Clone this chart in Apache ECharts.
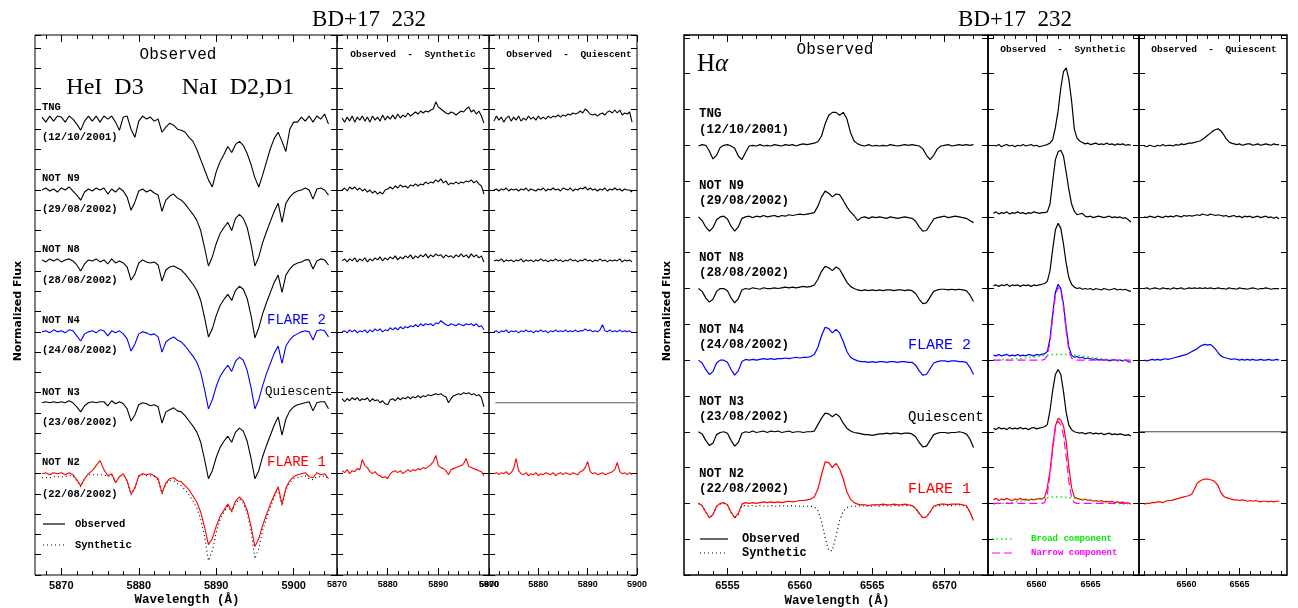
<!DOCTYPE html>
<html>
<head>
<meta charset="utf-8">
<title>BD+17 232</title>
<script src="https://cdn.jsdelivr.net/npm/echarts@6/dist/echarts.min.js"></script>
<style>
html,body{margin:0;padding:0;background:#fff;}
#main{width:1298px;height:608px;}
</style>
</head>
<body>
<div id="main"></div>
<script>
// ---------- Na I D2,D1 / He I D3 region (left figure) ----------
var naWave = [
  5867.5, 5868, 5868.5, 5869, 5869.5, 5870, 5870.5, 5871, 5871.5, 5872,
  5872.5, 5873, 5873.5, 5874, 5874.5, 5875, 5875.5, 5876, 5876.5, 5877,
  5877.5, 5878, 5878.5, 5879, 5879.5, 5880, 5880.5, 5881, 5881.5, 5882,
  5882.5, 5883, 5883.5, 5884, 5884.5, 5885, 5885.5, 5886, 5886.5, 5887,
  5887.5, 5888, 5888.5, 5889, 5889.5, 5890, 5890.5, 5891, 5891.5, 5892,
  5892.5, 5893, 5893.5, 5894, 5894.5, 5895, 5895.5, 5896, 5896.5, 5897,
  5897.5, 5898, 5898.5, 5899, 5899.5, 5900, 5900.5, 5901, 5901.5, 5902,
  5902.5, 5903, 5903.5, 5904, 5904.5
];
var naTNG = [
  1.02, 0.97, 1.03, 0.98, 1.03, 1.02, 0.97, 1.03, 1.00, 0.95,
  0.89, 0.98, 1.03, 0.98, 1.03, 0.97, 1.03, 1.00, 1.03, 0.97,
  0.89, 1.02, 1.03, 0.90, 0.82, 0.98, 1.03, 1.00, 1.02, 0.98,
  1.00, 0.87, 0.92, 0.96, 0.94, 0.90, 0.89, 0.87, 0.82, 0.78,
  0.70, 0.60, 0.50, 0.40, 0.33, 0.48, 0.58, 0.65, 0.73, 0.67,
  0.75, 0.78, 0.74, 0.66, 0.55, 0.42, 0.33, 0.45, 0.58, 0.71,
  0.81, 0.87, 0.78, 0.68, 0.90, 0.97, 0.97, 1.02, 0.98, 1.03,
  0.97, 1.03, 1.00, 1.05, 0.95
];
var naN9 = [
  1.00, 1.02, 0.99, 1.01, 0.98, 1.02, 1.00, 1.03, 0.99, 0.95,
  0.90, 0.98, 1.01, 0.99, 1.02, 1.00, 1.02, 0.96, 1.01, 0.98,
  1.02, 0.99, 0.93, 0.80, 0.88, 0.99, 1.01, 0.98, 1.00, 0.97,
  0.95, 0.79, 0.90, 0.94, 0.96, 0.92, 0.90, 0.86, 0.81, 0.76,
  0.70, 0.60, 0.43, 0.25, 0.34, 0.47, 0.57, 0.63, 0.68, 0.60,
  0.72, 0.76, 0.72, 0.63, 0.46, 0.25, 0.34, 0.48, 0.59, 0.69,
  0.79, 0.87, 0.68, 0.87, 0.93, 0.97, 0.99, 1.00, 1.02, 1.00,
  0.91, 1.01, 1.02, 1.00, 0.95
];
var naN8 = [
  1.01, 0.99, 1.02, 1.00, 1.02, 0.99, 1.01, 1.02, 1.00, 0.96,
  0.90, 0.97, 1.01, 1.00, 1.02, 0.99, 1.01, 0.97, 1.02, 0.98,
  1.00, 0.98, 0.94, 0.81, 0.87, 0.98, 1.01, 0.99, 0.98, 0.99,
  0.96, 0.80, 0.91, 0.94, 0.95, 0.93, 0.91, 0.87, 0.82, 0.77,
  0.71, 0.61, 0.44, 0.25, 0.33, 0.46, 0.56, 0.62, 0.67, 0.61,
  0.71, 0.75, 0.72, 0.63, 0.46, 0.24, 0.34, 0.48, 0.59, 0.69,
  0.79, 0.86, 0.69, 0.86, 0.92, 0.96, 0.98, 0.99, 1.01, 1.01,
  0.92, 1.00, 1.02, 1.01, 0.96
];
var naN4 = [
  1.00, 1.01, 0.99, 1.02, 1.00, 1.01, 0.99, 1.02, 1.01, 0.96,
  0.91, 0.98, 1.00, 1.01, 0.99, 1.02, 1.01, 0.96, 1.01, 0.99,
  1.01, 0.98, 0.93, 0.81, 0.88, 0.98, 1.00, 0.99, 0.97, 0.98,
  0.95, 0.80, 0.90, 0.93, 0.95, 0.92, 0.90, 0.86, 0.81, 0.76,
  0.70, 0.60, 0.43, 0.24, 0.33, 0.46, 0.56, 0.62, 0.67, 0.61,
  0.71, 0.75, 0.72, 0.62, 0.45, 0.24, 0.33, 0.47, 0.59, 0.69,
  0.79, 0.86, 0.69, 0.86, 0.92, 0.96, 0.98, 1.00, 1.01, 1.00,
  0.92, 1.01, 1.02, 1.01, 0.95
];
var naN3 = [
  1.00, 1.01, 1.00, 1.01, 1.00, 1.01, 1.00, 1.02, 1.00, 0.96,
  0.91, 0.97, 1.00, 1.01, 1.00, 1.01, 1.01, 0.97, 1.02, 0.99,
  1.01, 0.99, 0.94, 0.82, 0.88, 0.98, 1.00, 0.99, 0.97, 0.98,
  0.96, 0.80, 0.91, 0.93, 0.95, 0.92, 0.91, 0.87, 0.82, 0.77,
  0.71, 0.61, 0.44, 0.25, 0.33, 0.46, 0.56, 0.62, 0.67, 0.61,
  0.71, 0.75, 0.72, 0.62, 0.45, 0.25, 0.33, 0.47, 0.58, 0.68,
  0.78, 0.86, 0.68, 0.84, 0.92, 0.96, 0.98, 0.99, 1.00, 1.01,
  0.92, 1.00, 1.01, 1.01, 0.94
];
var naN2 = [
  1.00, 1.01, 0.99, 1.01, 1.00, 1.01, 0.99, 1.01, 0.99, 0.94,
  0.88, 0.95, 1.00, 1.03, 1.08, 1.13, 1.04, 0.98, 1.00, 0.91,
  0.97, 1.00, 0.93, 0.80, 0.86, 0.98, 1.00, 0.99, 1.00, 0.98,
  0.95, 0.81, 0.91, 0.95, 0.96, 0.93, 0.92, 0.88, 0.84, 0.78,
  0.72, 0.62, 0.47, 0.30, 0.36, 0.48, 0.58, 0.64, 0.70, 0.63,
  0.73, 0.77, 0.73, 0.64, 0.48, 0.28, 0.36, 0.49, 0.60, 0.70,
  0.79, 0.87, 0.70, 0.86, 0.93, 0.97, 0.99, 1.00, 1.01, 0.97,
  0.96, 1.01, 0.99, 1.00, 0.95
];
var naSynN2 = [
  0.96, 0.96, 0.96, 0.97, 0.97, 0.97, 0.97, 0.98, 0.98, 0.93,
  0.87, 0.95, 0.99, 0.99, 0.99, 0.99, 0.99, 0.97, 0.99, 0.92,
  0.97, 0.99, 0.92, 0.79, 0.86, 0.97, 0.99, 0.98, 0.98, 0.97,
  0.94, 0.80, 0.90, 0.93, 0.93, 0.90, 0.88, 0.84, 0.79, 0.73,
  0.66, 0.55, 0.38, 0.14, 0.24, 0.42, 0.55, 0.62, 0.68, 0.62,
  0.71, 0.75, 0.71, 0.61, 0.44, 0.16, 0.26, 0.44, 0.56, 0.67,
  0.77, 0.85, 0.68, 0.84, 0.91, 0.95, 0.96, 0.97, 0.98, 0.95,
  0.94, 0.97, 0.97, 0.98, 0.95
];

// observed - synthetic / observed - quiescent (Na region)
var osWave = [
  5871, 5871.5, 5872, 5872.5, 5873, 5873.5, 5874, 5874.5, 5875, 5875.5,
  5876, 5876.5, 5877, 5877.5, 5878, 5878.5, 5879, 5879.5, 5880, 5880.5,
  5881, 5881.5, 5882, 5882.5, 5883, 5883.5, 5884, 5884.5, 5885, 5885.5,
  5886, 5886.5, 5887, 5887.5, 5888, 5888.5, 5889, 5889.5, 5890, 5890.5,
  5891, 5891.5, 5892, 5892.5, 5893, 5893.5, 5894, 5894.5, 5895, 5895.5,
  5896, 5896.5, 5897, 5897.5, 5898, 5898.5, 5899
];
var osTNG = [
  1.01, 0.97, 1.02, 0.98, 1.03, 0.97, 1.02, 0.99, 1.03, 0.98,
  1.02, 0.97, 1.03, 0.99, 1.02, 0.98, 1.04, 0.99, 1.03, 1.00,
  1.04, 1.00, 1.05, 1.01, 1.04, 1.02, 1.06, 1.03, 1.05, 1.07,
  1.05, 1.08, 1.06, 1.08, 1.07, 1.09, 1.10, 1.17, 1.12, 1.10,
  1.08, 1.06, 1.05, 1.07, 1.06, 1.04, 1.06, 1.08, 1.07, 1.10,
  1.12, 1.07, 1.09, 1.05, 1.08, 1.03, 0.96
];
var osN9 = [
  1.00, 1.02, 0.99, 1.03, 1.01, 1.03, 1.00, 1.02, 0.99, 1.01,
  0.98, 1.00, 0.97, 0.99, 0.96, 0.98, 0.96, 1.00, 1.01, 1.03,
  1.01, 1.04, 1.02, 1.05, 1.03, 1.04, 1.02, 1.05, 1.04, 1.06,
  1.04, 1.06, 1.05, 1.08, 1.06, 1.08, 1.07, 1.10, 1.08, 1.11,
  1.07, 1.09, 1.05, 1.07, 1.06, 1.08, 1.06, 1.08, 1.07, 1.09,
  1.08, 1.10, 1.07, 1.09, 1.06, 1.04, 0.96
];
var osN8 = [
  1.00, 1.02, 0.99, 1.02, 1.00, 1.03, 0.99, 1.02, 1.00, 1.03,
  0.99, 1.02, 1.00, 1.03, 1.01, 1.04, 1.00, 1.03, 1.01, 1.04,
  1.02, 1.05, 1.01, 1.04, 1.02, 1.05, 1.03, 1.06, 1.02, 1.05,
  1.03, 1.06, 1.04, 1.07, 1.03, 1.06, 1.04, 1.07, 1.05, 1.06,
  1.03, 1.06, 1.04, 1.05, 1.03, 1.06, 1.04, 1.07, 1.04, 1.06,
  1.03, 1.07, 1.04, 1.06, 1.03, 1.05, 0.99
];
var osN4 = [
  1.00, 1.01, 0.99, 1.02, 1.00, 1.02, 0.99, 1.01, 1.00, 1.02,
  0.99, 1.02, 1.00, 1.03, 1.01, 1.03, 1.00, 1.02, 1.01, 1.04,
  1.02, 1.04, 1.02, 1.05, 1.03, 1.05, 1.04, 1.06, 1.05, 1.07,
  1.05, 1.08, 1.06, 1.08, 1.07, 1.08, 1.06, 1.09, 1.08, 1.11,
  1.09, 1.07, 1.06, 1.08, 1.07, 1.06, 1.08, 1.07, 1.06, 1.08,
  1.07, 1.08, 1.06, 1.08, 1.05, 1.06, 1.02
];
var osN3 = [
  1.04, 1.01, 1.04, 1.02, 1.05, 1.03, 1.05, 1.02, 1.04, 1.03,
  1.05, 1.01, 1.04, 1.02, 1.03, 1.00, 1.02, 0.99, 0.98, 1.03,
  1.04, 1.02, 1.05, 1.03, 1.05, 1.04, 1.06, 1.04, 1.06, 1.05,
  1.07, 1.05, 1.07, 1.06, 1.08, 1.07, 1.08, 1.09, 1.08, 1.09,
  1.07, 1.06, 1.00, 1.04, 1.07, 1.08, 1.09, 1.08, 1.10, 1.09,
  1.10, 1.08, 1.09, 1.07, 1.08, 1.05, 0.96
];
var osN2 = [
  1.03, 1.01, 1.04, 1.00, 1.03, 1.02, 1.05, 1.04, 1.14, 1.08,
  1.06, 1.02, 1.00, 1.02, 0.99, 0.98, 0.96, 0.97, 0.95, 1.00,
  1.02, 1.03, 1.01, 1.03, 1.00, 1.02, 1.04, 1.02, 1.04, 1.03,
  1.05, 1.04, 1.06, 1.05, 1.07, 1.09, 1.12, 1.18, 1.08, 1.06,
  1.05, 1.03, 0.99, 1.04, 1.05, 1.06, 1.07, 1.08, 1.10, 1.15,
  1.07, 1.06, 1.05, 1.04, 1.03, 1.02, 0.98
];
var oqTNG = [
  0.98, 1.03, 0.99, 1.02, 0.97, 1.01, 1.03, 0.98, 1.02, 0.99,
  1.03, 0.98, 1.01, 0.99, 1.03, 1.00, 1.02, 0.99, 1.03, 1.00,
  1.02, 1.00, 1.03, 1.01, 1.03, 1.02, 1.04, 1.02, 1.04, 1.03,
  1.05, 1.04, 1.06, 1.05, 1.06, 1.08, 1.06, 1.10, 1.08, 1.05,
  1.04, 1.05, 1.03, 1.05, 1.06, 1.04, 1.07, 1.08, 1.06, 1.09,
  1.06, 1.09, 1.04, 1.06, 1.05, 1.07, 0.97
];
var oqN9 = [
  1.00, 1.01, 0.99, 1.01, 1.00, 1.02, 0.99, 1.01, 1.00, 1.01,
  0.99, 1.01, 1.00, 1.02, 0.99, 1.01, 1.00, 0.99, 1.01, 1.00,
  1.02, 0.99, 1.01, 1.00, 1.02, 1.00, 1.01, 0.99, 1.02, 1.01,
  1.00, 1.02, 0.99, 1.01, 1.00, 1.02, 1.01, 1.03, 1.00, 1.02,
  1.00, 1.01, 0.99, 1.01, 1.00, 1.02, 0.99, 1.01, 1.00, 1.02,
  1.00, 1.01, 0.99, 1.01, 1.00, 1.00, 0.98
];
var oqN8 = [
  1.00, 1.01, 1.00, 1.02, 0.99, 1.01, 1.00, 1.01, 0.99, 1.01,
  1.00, 1.02, 0.99, 1.01, 1.00, 1.01, 0.99, 1.01, 1.00, 1.02,
  1.00, 1.01, 0.99, 1.01, 1.00, 1.02, 1.00, 1.01, 0.99, 1.01,
  1.00, 1.02, 1.00, 1.01, 0.99, 1.01, 1.00, 1.02, 1.00, 1.01,
  0.99, 1.01, 1.00, 1.02, 1.00, 1.01, 0.99, 1.01, 1.00, 1.01,
  1.00, 1.02, 0.99, 1.01, 1.00, 1.01, 0.99
];
var oqN4 = [
  1.00, 1.01, 0.99, 1.01, 1.00, 1.02, 0.99, 1.01, 1.00, 1.01,
  0.99, 1.01, 1.00, 1.02, 1.00, 1.01, 0.99, 1.01, 1.00, 1.02,
  1.00, 1.01, 0.99, 1.01, 1.00, 1.02, 1.00, 1.01, 1.00, 1.02,
  1.00, 1.01, 1.00, 1.02, 1.00, 1.01, 1.01, 1.03, 1.01, 1.02,
  1.00, 1.01, 1.00, 1.02, 1.07, 1.01, 1.00, 1.02, 1.00, 1.01,
  1.00, 1.02, 1.00, 1.01, 1.00, 1.01, 0.99
];
var oqN3Wave = [5871.3, 5899.7];
var oqN3 = [1.00, 1.00];
var oqN2 = [
  1.00, 1.01, 0.99, 1.01, 1.00, 1.02, 0.99, 1.01, 1.05, 1.15,
  1.03, 1.00, 0.99, 1.01, 0.98, 1.00, 0.99, 1.01, 0.98, 1.00,
  0.99, 1.01, 1.00, 0.99, 1.01, 0.98, 1.00, 1.01, 0.99, 1.01,
  1.00, 0.99, 1.01, 1.00, 0.99, 1.02, 1.03, 1.06, 1.12, 1.02,
  1.00, 1.01, 0.99, 1.00, 1.01, 0.99, 1.00, 1.01, 1.02, 1.04,
  1.11, 1.02, 1.00, 1.01, 0.99, 1.01, 0.99
];

// ---------- H-alpha region (right figure) ----------
var hWave = [
  6553, 6553.25, 6553.5, 6553.75, 6554, 6554.25, 6554.5, 6554.75, 6555, 6555.25,
  6555.5, 6555.75, 6556, 6556.25, 6556.5, 6556.75, 6557, 6557.25, 6557.5, 6557.75,
  6558, 6558.25, 6558.5, 6558.75, 6559, 6559.25, 6559.5, 6559.75, 6560, 6560.25,
  6560.5, 6560.75, 6561, 6561.25, 6561.5, 6561.75, 6562, 6562.25, 6562.5, 6562.75,
  6563, 6563.25, 6563.5, 6563.75, 6564, 6564.25, 6564.5, 6564.75, 6565, 6565.25,
  6565.5, 6565.75, 6566, 6566.25, 6566.5, 6566.75, 6567, 6567.25, 6567.5, 6567.75,
  6568, 6568.25, 6568.5, 6568.75, 6569, 6569.25, 6569.5, 6569.75, 6570, 6570.25,
  6570.5, 6570.75, 6571, 6571.25, 6571.5, 6571.75, 6572
];
var hTNG = [
  0.99, 1.01, 1.00, 0.92, 0.81, 0.86, 0.97, 1.00, 1.01, 0.99,
  0.96, 0.85, 0.80, 0.90, 0.99, 1.00, 0.99, 1.01, 0.99, 1.00,
  0.99, 1.01, 1.00, 0.99, 1.01, 1.00, 1.01, 0.99, 1.01, 1.02,
  1.01, 1.02, 1.03, 1.05, 1.13, 1.30, 1.42, 1.46, 1.46, 1.42,
  1.46, 1.37, 1.18, 1.06, 1.02, 1.00, 0.99, 1.01, 0.99, 1.00,
  0.99, 1.00, 0.99, 1.01, 1.00, 0.99, 1.00, 1.01, 1.00, 1.01,
  1.00, 0.99, 0.95, 0.86, 0.80, 0.86, 0.95, 0.99, 1.00, 1.01,
  0.99, 1.00, 1.01, 1.00, 1.01, 1.00, 1.01
];
var hN9 = [
  1.00, 0.95, 0.86, 0.80, 0.85, 0.96, 1.00, 1.01, 0.97, 0.87,
  0.80, 0.86, 0.98, 1.00, 1.01, 0.99, 1.01, 1.00, 1.02, 1.00,
  1.01, 1.02, 1.00, 1.02, 1.01, 1.03, 1.02, 1.03, 1.04, 1.03,
  1.04, 1.05, 1.06, 1.15, 1.28, 1.36, 1.33, 1.28, 1.32, 1.31,
  1.23, 1.14, 1.07, 1.02, 0.95, 0.99, 1.00, 0.98, 1.00, 0.99,
  1.00, 0.99, 0.98, 1.00, 0.99, 0.98, 0.99, 1.00, 0.99, 0.98,
  0.94, 0.86, 0.80, 0.81, 0.89, 0.97, 0.99, 1.00, 1.01, 0.99,
  1.00, 1.01, 1.00, 0.99, 0.98, 0.95, 0.92
];
var hN8 = [
  1.00, 0.96, 0.87, 0.81, 0.85, 0.96, 1.00, 1.00, 0.97, 0.87,
  0.80, 0.86, 0.98, 1.00, 0.99, 1.01, 1.00, 0.99, 1.01, 1.00,
  1.00, 1.01, 1.00, 1.01, 1.02, 1.01, 1.02, 1.01, 1.02, 1.03,
  1.02, 1.03, 1.05, 1.13, 1.24, 1.31, 1.29, 1.25, 1.30, 1.27,
  1.18, 1.09, 1.03, 1.00, 0.98, 0.97, 0.98, 0.97, 0.98, 0.97,
  0.98, 0.97, 0.98, 0.98, 0.97, 0.98, 0.98, 0.97, 0.98, 0.97,
  0.93, 0.85, 0.79, 0.80, 0.88, 0.96, 0.98, 0.99, 0.99, 0.98,
  0.99, 0.98, 0.99, 0.98, 0.97, 0.91, 0.82
];
var hN4 = [
  1.00, 0.96, 0.87, 0.80, 0.84, 0.96, 1.00, 1.00, 0.97, 0.87,
  0.79, 0.85, 0.98, 1.01, 1.00, 1.01, 1.00, 1.01, 1.02, 1.01,
  1.02, 1.01, 1.02, 1.02, 1.03, 1.02, 1.03, 1.04, 1.03, 1.04,
  1.04, 1.05, 1.08, 1.18, 1.34, 1.46, 1.44, 1.38, 1.43, 1.38,
  1.26, 1.12, 1.04, 1.01, 0.99, 0.98, 0.98, 0.97, 0.98, 0.97,
  0.98, 0.98, 0.97, 0.98, 0.98, 0.97, 0.98, 0.98, 0.97, 0.97,
  0.93, 0.85, 0.79, 0.80, 0.88, 0.96, 0.98, 0.99, 0.99, 0.98,
  0.99, 0.99, 0.98, 0.98, 0.97, 0.90, 0.80
];
var hN3 = [
  1.00, 0.97, 0.88, 0.81, 0.84, 0.96, 0.99, 1.00, 0.98, 0.88,
  0.80, 0.85, 0.98, 1.00, 0.99, 1.01, 0.99, 1.00, 1.01, 0.99,
  1.01, 1.00, 1.01, 0.99, 1.00, 1.01, 0.99, 1.00, 1.00, 0.99,
  1.00, 1.00, 1.01, 1.10, 1.19, 1.26, 1.25, 1.21, 1.25, 1.21,
  1.12, 1.05, 1.01, 0.99, 0.98, 0.97, 0.96, 0.96, 0.95, 0.96,
  0.97, 0.97, 0.98, 0.97, 0.98, 0.98, 0.97, 0.98, 0.98, 0.97,
  0.93, 0.85, 0.79, 0.80, 0.88, 0.96, 0.98, 0.99, 0.99, 0.98,
  0.99, 0.99, 1.00, 0.99, 0.97, 0.90, 0.78
];
var hN2 = [
  1.00, 0.97, 0.88, 0.80, 0.84, 0.96, 1.00, 1.01, 0.98, 0.88,
  0.80, 0.86, 0.99, 1.01, 1.00, 1.01, 1.00, 1.01, 1.02, 1.01,
  1.02, 1.01, 1.02, 1.01, 1.02, 1.03, 1.02, 1.03, 1.04, 1.04,
  1.05, 1.06, 1.09, 1.20, 1.40, 1.58, 1.57, 1.50, 1.56, 1.48,
  1.34, 1.16, 1.06, 1.01, 0.99, 0.98, 0.98, 0.97, 0.98, 0.98,
  0.98, 0.99, 0.98, 0.98, 0.99, 0.98, 0.98, 0.99, 0.98, 0.97,
  0.93, 0.86, 0.80, 0.81, 0.88, 0.96, 0.98, 0.99, 0.99, 0.98,
  0.99, 0.99, 0.99, 0.98, 0.97, 0.88, 0.76
];
var hSynN2 = [
  1.00, 0.97, 0.88, 0.80, 0.84, 0.96, 0.99, 1.00, 0.97, 0.87,
  0.79, 0.85, 0.97, 0.97, 0.96, 0.97, 0.96, 0.97, 0.96, 0.96,
  0.97, 0.96, 0.96, 0.97, 0.96, 0.96, 0.97, 0.96, 0.96, 0.96,
  0.96, 0.96, 0.95, 0.90, 0.75, 0.52, 0.34, 0.34, 0.55, 0.76,
  0.89, 0.94, 0.96, 0.96, 0.96, 0.97, 0.96, 0.96, 0.96, 0.97,
  0.96, 0.97, 0.97, 0.96, 0.97, 0.97, 0.96, 0.97, 0.97, 0.97,
  0.93, 0.86, 0.80, 0.81, 0.88, 0.95, 0.97, 0.97, 0.98, 0.97,
  0.97, 0.98, 0.98, 0.97, 0.96, 0.88, 0.76
];

// observed - synthetic / observed - quiescent (H-alpha)
var osHWave = [
  6556, 6556.25, 6556.5, 6556.75, 6557, 6557.25, 6557.5, 6557.75, 6558, 6558.25,
  6558.5, 6558.75, 6559, 6559.25, 6559.5, 6559.75, 6560, 6560.25, 6560.5, 6560.75,
  6561, 6561.25, 6561.5, 6561.75, 6562, 6562.25, 6562.5, 6562.75, 6563, 6563.25,
  6563.5, 6563.75, 6564, 6564.25, 6564.5, 6564.75, 6565, 6565.25, 6565.5, 6565.75,
  6566, 6566.25, 6566.5, 6566.75, 6567, 6567.25, 6567.5, 6567.75, 6568, 6568.25,
  6568.5, 6568.75
];
var osHTNG = [
  1.00, 0.99, 1.01, 0.98, 1.00, 1.01, 0.99, 1.00, 0.98, 1.00,
  0.99, 1.01, 0.99, 1.00, 1.01, 0.99, 1.00, 0.98, 0.99, 1.00,
  1.01, 1.03, 1.08, 1.25, 1.48, 1.80, 2.03, 2.08, 1.92, 1.62,
  1.23, 1.10, 1.06, 1.04, 1.02, 1.03, 1.01, 1.02, 1.03, 1.01,
  1.02, 1.01, 1.03, 1.01, 1.02, 1.00, 1.02, 1.01, 1.02, 1.00,
  1.01, 1.00
];
var osHN9 = [
  1.05, 1.07, 1.04, 1.06, 1.05, 1.07, 1.04, 1.06, 1.05, 1.07,
  1.05, 1.06, 1.04, 1.06, 1.05, 1.07, 1.06, 1.05, 1.06, 1.06,
  1.07, 1.18, 1.50, 1.80, 1.91, 1.93, 1.85, 1.62, 1.38, 1.18,
  1.08, 1.03, 1.04, 1.05, 1.01, 1.00, 1.01, 0.99, 1.00, 1.01,
  1.00, 0.99, 1.00, 1.01, 0.99, 1.00, 0.99, 1.00, 0.98, 0.99,
  0.96, 0.93
];
var osHN8 = [
  1.04, 1.05, 1.03, 1.05, 1.04, 1.06, 1.03, 1.05, 1.04, 1.05,
  1.03, 1.05, 1.04, 1.05, 1.03, 1.05, 1.04, 1.05, 1.06, 1.07,
  1.10, 1.25, 1.55, 1.82, 1.91, 1.84, 1.62, 1.35, 1.15, 1.06,
  1.02, 1.00, 1.01, 0.99, 1.00, 0.99, 1.00, 0.98, 1.00, 0.99,
  0.98, 1.00, 0.99, 0.98, 0.99, 1.00, 0.98, 0.99, 0.98, 0.99,
  0.97, 0.96
];
var osHN4 = [
  1.07, 1.06, 1.08, 1.06, 1.07, 1.08, 1.06, 1.07, 1.06, 1.08,
  1.06, 1.07, 1.06, 1.08, 1.07, 1.06, 1.08, 1.07, 1.08, 1.09,
  1.12, 1.30, 1.65, 1.95, 2.06, 2.00, 1.78, 1.45, 1.18, 1.07,
  1.04, 1.05, 1.03, 1.04, 1.02, 1.03, 1.02, 1.01, 1.02, 1.00,
  1.01, 1.00, 1.01, 0.99, 1.00, 1.01, 0.99, 1.00, 0.99, 1.00,
  0.98, 0.97
];
var osHN3 = [
  1.05, 1.03, 1.06, 1.04, 1.05, 1.03, 1.06, 1.04, 1.05, 1.04,
  1.06, 1.04, 1.05, 1.03, 1.05, 1.06, 1.04, 1.05, 1.06, 1.07,
  1.10, 1.30, 1.58, 1.80, 1.87, 1.80, 1.56, 1.27, 1.09, 1.03,
  1.00, 0.99, 0.98, 0.99, 0.97, 0.98, 0.99, 0.97, 0.98, 0.97,
  0.98, 0.96, 0.97, 0.98, 0.96, 0.97, 0.96, 0.97, 0.96, 0.95,
  0.96, 0.94
];
var osHN2 = [
  1.05, 1.07, 1.04, 1.06, 1.05, 1.07, 1.05, 1.04, 1.06, 1.05,
  1.07, 1.05, 1.06, 1.04, 1.06, 1.05, 1.06, 1.07, 1.06, 1.08,
  1.22, 1.45, 1.80, 2.08, 2.19, 2.16, 2.08, 1.86, 1.50, 1.22,
  1.09, 1.07, 1.06, 1.05, 1.06, 1.04, 1.05, 1.03, 1.04, 1.03,
  1.04, 1.02, 1.03, 1.02, 1.03, 1.01, 1.02, 1.01, 1.02, 1.00,
  1.01, 0.99
];
// Gaussian fit components (N4 and N2)
var narrowN4 = [
  1.00, 1.00, 1.00, 1.00, 1.00, 1.00, 1.00, 1.00, 1.00, 1.00,
  1.00, 1.00, 1.00, 1.00, 1.00, 1.00, 1.00, 1.00, 1.00, 1.01,
  1.06, 1.25, 1.60, 1.90, 2.02, 1.96, 1.74, 1.40, 1.13, 1.03,
  1.00, 1.00, 1.00, 1.00, 1.00, 1.00, 1.00, 1.00, 1.00, 1.00,
  1.00, 1.00, 1.00, 1.00, 1.00, 1.00, 1.00, 1.00, 1.00, 1.00,
  1.00, 1.00
];
var narrowN2 = [
  1.00, 1.00, 1.00, 1.00, 1.00, 1.00, 1.00, 1.00, 1.00, 1.00,
  1.00, 1.00, 1.00, 1.00, 1.00, 1.00, 1.00, 1.00, 1.00, 1.01,
  1.13, 1.40, 1.75, 2.05, 2.15, 2.10, 1.95, 1.65, 1.30, 1.08,
  1.01, 1.00, 1.00, 1.00, 1.00, 1.00, 1.00, 1.00, 1.00, 1.00,
  1.00, 1.00, 1.00, 1.00, 1.00, 1.00, 1.00, 1.00, 1.00, 1.00,
  1.00, 1.00
];
var broadWave = [
  6556, 6556.5, 6557, 6557.5, 6558, 6558.5, 6559, 6559.5, 6560, 6560.5,
  6561, 6561.5, 6562, 6562.5, 6563, 6563.5, 6564, 6564.5, 6565, 6565.5,
  6566, 6566.5, 6567, 6567.5, 6568, 6568.5
];
var broadN4 = [
  1.00, 1.00, 1.01, 1.01, 1.02, 1.02, 1.03, 1.04, 1.05, 1.06,
  1.07, 1.08, 1.08, 1.08, 1.08, 1.07, 1.06, 1.05, 1.04, 1.03,
  1.02, 1.01, 1.01, 1.00, 1.00, 1.00
];
var broadN2 = [
  0.99, 1.00, 1.00, 1.01, 1.02, 1.03, 1.04, 1.05, 1.06, 1.07,
  1.08, 1.09, 1.09, 1.09, 1.08, 1.07, 1.06, 1.05, 1.04, 1.03,
  1.02, 1.01, 1.00, 1.00, 0.99, 0.99
];
var oqHTNG = [
  0.99, 0.98, 1.00, 0.99, 0.98, 1.00, 0.99, 1.01, 0.99, 1.00,
  1.00, 0.99, 1.01, 1.00, 1.02, 1.01, 1.02, 1.03, 1.03, 1.04,
  1.05, 1.06, 1.08, 1.11, 1.14, 1.17, 1.20, 1.22, 1.23, 1.20,
  1.15, 1.09, 1.05, 1.03, 1.02, 1.01, 1.02, 1.00, 1.01, 1.02,
  1.02, 1.00, 1.01, 1.02, 1.00, 1.01, 1.02, 1.01, 1.00, 1.02,
  1.01, 1.01
];
var oqHN9 = [
  1.00, 0.99, 1.01, 1.00, 0.99, 1.01, 1.00, 0.99, 1.01, 1.00,
  1.01, 1.00, 1.02, 1.01, 1.00, 1.02, 1.01, 1.02, 1.01, 1.02,
  1.03, 1.02, 1.04, 1.03, 1.02, 1.04, 1.03, 1.02, 1.03, 1.02,
  1.01, 1.02, 1.00, 1.01, 1.02, 1.00, 1.01, 0.99, 1.01, 1.00,
  1.01, 0.99, 1.00, 1.01, 0.99, 1.00, 1.01, 0.99, 1.00, 0.98,
  1.00, 0.97
];
var oqHN8 = [
  1.00, 1.01, 0.99, 1.00, 1.01, 1.00, 0.99, 1.01, 1.00, 1.00,
  0.99, 1.01, 1.00, 1.00, 1.01, 0.99, 1.00, 1.01, 1.00, 1.01,
  1.00, 1.01, 1.00, 1.01, 1.00, 1.01, 1.00, 1.00, 1.01, 1.00,
  1.00, 0.99, 1.01, 1.00, 1.00, 0.99, 1.01, 1.00, 1.00, 0.99,
  1.00, 1.01, 1.00, 0.99, 1.00, 1.00, 1.01, 1.00, 0.99, 1.00,
  1.00, 1.00
];
var oqHN4 = [
  1.00, 0.99, 1.00, 1.01, 1.00, 1.01, 1.00, 1.01, 1.02, 1.01,
  1.02, 1.03, 1.04, 1.05, 1.06, 1.07, 1.08, 1.10, 1.12, 1.14,
  1.16, 1.19, 1.21, 1.22, 1.21, 1.22, 1.19, 1.15, 1.10, 1.06,
  1.04, 1.03, 1.02, 1.01, 1.02, 1.01, 1.00, 1.01, 1.00, 1.01,
  1.00, 1.01, 1.00, 1.00, 1.01, 1.00, 1.00, 1.01, 1.00, 1.00,
  1.01, 1.00
];
var oqHN3Wave = [6555.5, 6569.5];
var oqHN3 = [1.00, 1.00];
var oqHN2 = [
  0.99, 1.00, 1.00, 1.01, 1.01, 1.02, 1.02, 1.01, 1.03, 1.04,
  1.04, 1.05, 1.06, 1.07, 1.08, 1.09, 1.10, 1.11, 1.13, 1.20,
  1.28, 1.31, 1.33, 1.34, 1.34, 1.33, 1.32, 1.29, 1.24, 1.15,
  1.10, 1.08, 1.07, 1.06, 1.05, 1.05, 1.04, 1.05, 1.04, 1.03,
  1.04, 1.03, 1.04, 1.03, 1.02, 1.03, 1.03, 1.02, 1.03, 1.02,
  1.03, 1.03
];

// tick positions
var naMajor = [5870, 5880, 5890, 5900];
var naMinor = [5868, 5872, 5874, 5876, 5878, 5882, 5884, 5886, 5888, 5892, 5894, 5896, 5898, 5902, 5904];
var naMinor2 = [5872, 5874, 5876, 5878, 5882, 5884, 5886, 5888, 5892, 5894, 5896, 5898];
var hMajor = [6555, 6560, 6565, 6570];
var hMinor = [6553, 6554, 6556, 6557, 6558, 6559, 6561, 6562, 6563, 6564, 6566, 6567, 6568, 6569, 6571, 6572];
var hMajor2 = [6560, 6565];
var hMinor2 = [6556, 6557, 6558, 6559, 6561, 6562, 6563, 6564, 6566, 6567, 6568, 6569];

// stacking offsets (TNG, N9, N8, N4, N3, N2)
var naOffsets = [3.5, 2.8, 2.1, 1.4, 0.7, 0];
var hOffsets = [5, 4, 3, 2, 1, 0];

var BLACK = '#000000', BLUE = '#0000ff', RED = '#ff0000', GREEN = '#00ee00', MAGENTA = '#ff00ff';

var panels = [
  {left: 35,   width: 302, xmin: 5866.6, xmax: 5905.6, major: naMajor, minor: naMinor,  ymax: 5.33, ystep: 0.2, fs: 11, bw: 1},
  {left: 337,  width: 152, xmin: 5870,   xmax: 5900,   major: naMajor, minor: naMinor2, ymax: 5.33, ystep: 0.2, fs: 9,  bw: 1},
  {left: 489,  width: 148, xmin: 5870,   xmax: 5900,   major: naMajor, minor: naMinor2, ymax: 5.33, ystep: 0.2, fs: 9,  bw: 1},
  {left: 684,  width: 304, xmin: 6552,   xmax: 6573,   major: hMajor,  minor: hMinor,   ymax: 7.54, ystep: 0.5, fs: 11, bw: 1.5},
  {left: 988,  width: 151, xmin: 6555.5, xmax: 6569.5, major: hMajor2, minor: hMinor2,  ymax: 7.54, ystep: 0.5, fs: 9,  bw: 1.5},
  {left: 1139, width: 148, xmin: 6555.5, xmax: 6569.5, major: hMajor2, minor: hMinor2,  ymax: 7.54, ystep: 0.5, fs: 9,  bw: 1.5}
];

var option = {
  animation: false,
  backgroundColor: '#ffffff',
  grid: [], xAxis: [], yAxis: [], series: [], graphic: []
};
var mainX = [], mainY = [];

function xAxisDef(gi, p, pos, ticks, len, labels) {
  return {
    type: 'value', gridIndex: gi, position: pos, offset: 0, min: p.xmin, max: p.xmax,
    axisLine: {show: false}, splitLine: {show: false},
    axisTick: {show: true, inside: true, length: len, customValues: ticks, lineStyle: {color: '#000', width: 1}},
    axisLabel: {show: labels, customValues: ticks, margin: 5, color: '#000',
      fontFamily: 'Liberation Sans', fontWeight: 'bold', fontSize: p.fs,
      formatter: function (v) { return String(Math.round(v)); }}
  };
}
function yAxisDef(gi, p, pos) {
  return {
    type: 'value', gridIndex: gi, position: pos, offset: 0, min: 0, max: p.ymax, interval: p.ystep,
    axisLine: {show: false}, splitLine: {show: false}, axisLabel: {show: false},
    axisTick: {show: true, inside: true, length: 6, lineStyle: {color: '#000', width: 1}}
  };
}

panels.forEach(function (p, gi) {
  option.grid.push({left: p.left, top: 35, width: p.width, height: 540, show: true,
    borderColor: '#000', borderWidth: p.bw, backgroundColor: 'rgba(0,0,0,0)',
    containLabel: false, outerBoundsMode: 'none'});
  mainX.push(option.xAxis.length);
  option.xAxis.push(xAxisDef(gi, p, 'bottom', p.major, 7, true));
  option.xAxis.push(xAxisDef(gi, p, 'bottom', p.minor, 4, false));
  option.xAxis.push(xAxisDef(gi, p, 'top', p.major, 7, false));
  option.xAxis.push(xAxisDef(gi, p, 'top', p.minor, 4, false));
  mainY.push(option.yAxis.length);
  option.yAxis.push(yAxisDef(gi, p, 'left'));
  option.yAxis.push(yAxisDef(gi, p, 'right'));
});

function addSpectrum(gi, wave, flux, offset, color, dash, width) {
  option.series.push({
    type: 'line', xAxisIndex: mainX[gi], yAxisIndex: mainY[gi],
    data: wave.map(function (w, i) { return [w, flux[i] + offset]; }),
    symbol: 'none', silent: true, clip: true,
    lineStyle: {color: color, width: width || 1.1, type: dash || 'solid'}
  });
}

// left figure
var naObs = [naTNG, naN9, naN8, naN4, naN3, naN2];
var naOS = [osTNG, osN9, osN8, osN4, osN3, osN2];
var naOQ = [oqTNG, oqN9, oqN8, oqN4, null, oqN2];
var colors = [BLACK, BLACK, BLACK, BLUE, BLACK, RED];
addSpectrum(0, naWave, naSynN2, naOffsets[5], BLACK, [1, 3], 1.1);
for (var k = 0; k < 6; k++) {
  addSpectrum(0, naWave, naObs[k], naOffsets[k], colors[k]);
  addSpectrum(1, osWave, naOS[k], naOffsets[k], colors[k]);
  if (naOQ[k]) addSpectrum(2, osWave, naOQ[k], naOffsets[k], colors[k]);
}
addSpectrum(2, oqN3Wave, oqN3, naOffsets[4], '#555555');

// right figure
var hObs = [hTNG, hN9, hN8, hN4, hN3, hN2];
var hOS = [osHTNG, osHN9, osHN8, osHN4, osHN3, osHN2];
var hOQ = [oqHTNG, oqHN9, oqHN8, oqHN4, null, oqHN2];
addSpectrum(3, hWave, hSynN2, hOffsets[5], BLACK, [1, 3], 1.2);
for (var j = 0; j < 6; j++) {
  addSpectrum(3, hWave, hObs[j], hOffsets[j], colors[j], null, 1.2);
  addSpectrum(4, osHWave, hOS[j], hOffsets[j], colors[j], null, 1.2);
  if (hOQ[j]) addSpectrum(5, osHWave, hOQ[j], hOffsets[j], colors[j], null, 1.2);
}
addSpectrum(5, oqHN3Wave, oqHN3, hOffsets[4], '#444444', null, 1.2);
addSpectrum(4, broadWave, broadN4, hOffsets[3], GREEN, [1.5, 3], 1.5);
addSpectrum(4, broadWave, broadN2, hOffsets[5], GREEN, [1.5, 3], 1.5);
addSpectrum(4, osHWave, narrowN4, hOffsets[3], MAGENTA, [8, 4], 1.2);
addSpectrum(4, osHWave, narrowN2, hOffsets[5], MAGENTA, [8, 4], 1.2);

// texts
function txt(x, y, s, font, color, align, rot) {
  option.graphic.push({
    type: 'text', x: x, y: y, rotation: rot || 0, silent: true, z: 100,
    style: {text: s, font: font, fill: color || '#000',
      align: align || 'left', textAlign: align || 'left',
      verticalAlign: 'middle', textVerticalAlign: 'middle'}
  });
}
function seg(x1, x2, y, color, dash, w) {
  option.graphic.push({
    type: 'line', silent: true, z: 100,
    shape: {x1: x1, y1: y, x2: x2, y2: y},
    style: {stroke: color, lineWidth: w || 1.2, lineDash: dash || null}
  });
}

var MONO = '"Liberation Mono", "DejaVu Sans Mono", monospace';
var SERIF = '"Liberation Serif", "DejaVu Serif", serif';
var labFont = 'bold 10.5px ' + MONO;
var labFontR = 'bold 12.5px ' + MONO;

// left figure texts
txt(369, 20, 'BD+17  232', '23px ' + SERIF, BLACK, 'center');
txt(178, 55, 'Observed', '16px ' + MONO, BLACK, 'center');
txt(413, 55, 'Observed  -  Synthetic', 'bold 9.5px ' + MONO, BLACK, 'center');
txt(569, 55, 'Observed  -  Quiescent', 'bold 9.5px ' + MONO, BLACK, 'center');
txt(105, 88, 'HeI  D3', '24px ' + SERIF, BLACK, 'center');
txt(238, 88, 'NaI  D2,D1', '24px ' + SERIF, BLACK, 'center');
var naLabels = [['TNG', '(12/10/2001)', 107, 137], ['NOT N9', '(29/08/2002)', 178, 209],
  ['NOT N8', '(28/08/2002)', 249, 280], ['NOT N4', '(24/08/2002)', 320, 350],
  ['NOT N3', '(23/08/2002)', 392, 422], ['NOT N2', '(22/08/2002)', 462, 494]];
naLabels.forEach(function (l) {
  txt(42, l[2], l[0], labFont, BLACK);
  txt(42, l[3], l[1], labFont, BLACK);
});
txt(267, 320, 'FLARE 2', '14px ' + MONO, BLUE);
txt(265, 392, 'Quiescent', '12.5px ' + MONO, BLACK);
txt(267, 462, 'FLARE 1', '14px ' + MONO, RED);
seg(43, 65, 524, BLACK);
seg(43, 65, 545, BLACK, [1, 3]);
txt(75, 524, 'Observed', labFont, BLACK);
txt(75, 545, 'Synthetic', labFont, BLACK);
txt(18, 311, 'Normalized Flux', 'bold 11px "DejaVu Sans"', BLACK, 'center', Math.PI / 2);
txt(187, 600, 'Wavelength (\u00c5)', 'bold 12.5px ' + MONO, BLACK, 'center');

// right figure texts
txt(1015, 20, 'BD+17  232', '23px ' + SERIF, BLACK, 'center');
option.graphic.push({
  type: 'text', x: 697, y: 64, silent: true, z: 100,
  style: {text: '{a|H}{b|\u03b1}', fill: '#000', verticalAlign: 'middle', textVerticalAlign: 'middle',
    rich: {a: {font: '25px ' + SERIF}, b: {font: 'italic 25px ' + SERIF}}}
});
txt(835, 50, 'Observed', '16px ' + MONO, BLACK, 'center');
txt(1063, 50, 'Observed  -  Synthetic', 'bold 9.5px ' + MONO, BLACK, 'center');
txt(1214, 50, 'Observed  -  Quiescent', 'bold 9.5px ' + MONO, BLACK, 'center');
var hLabels = [['TNG', '(12/10/2001)', 114, 130], ['NOT N9', '(29/08/2002)', 186, 201],
  ['NOT N8', '(28/08/2002)', 258, 273], ['NOT N4', '(24/08/2002)', 330, 345],
  ['NOT N3', '(23/08/2002)', 402, 417], ['NOT N2', '(22/08/2002)', 474, 489]];
hLabels.forEach(function (l) {
  txt(699, l[2], l[0], labFontR, BLACK);
  txt(699, l[3], l[1], labFontR, BLACK);
});
txt(908, 345, 'FLARE 2', '15px ' + MONO, BLUE);
txt(908, 417, 'Quiescent', '14px ' + MONO, BLACK);
txt(908, 489, 'FLARE 1', '15px ' + MONO, RED);
seg(700, 728, 539, BLACK);
seg(700, 728, 553, BLACK, [1, 3]);
txt(742, 539, 'Observed', 'bold 12px ' + MONO, BLACK);
txt(742, 553, 'Synthetic', 'bold 12px ' + MONO, BLACK);
seg(992, 1014, 539, GREEN, [1.5, 3], 1.5);
seg(992, 1014, 553, MAGENTA, [8, 4], 1.2);
txt(1031, 539, 'Broad component', 'bold 9px ' + MONO, GREEN);
txt(1031, 553, 'Narrow component', 'bold 9px ' + MONO, MAGENTA);
txt(667, 311, 'Normalized Flux', 'bold 11px "DejaVu Sans"', BLACK, 'center', Math.PI / 2);
txt(837, 601, 'Wavelength (\u00c5)', 'bold 12.5px ' + MONO, BLACK, 'center');

var myChart = echarts.init(document.getElementById('main'), null, {renderer: 'canvas'});
myChart.setOption(option);
</script>
</body>
</html>
